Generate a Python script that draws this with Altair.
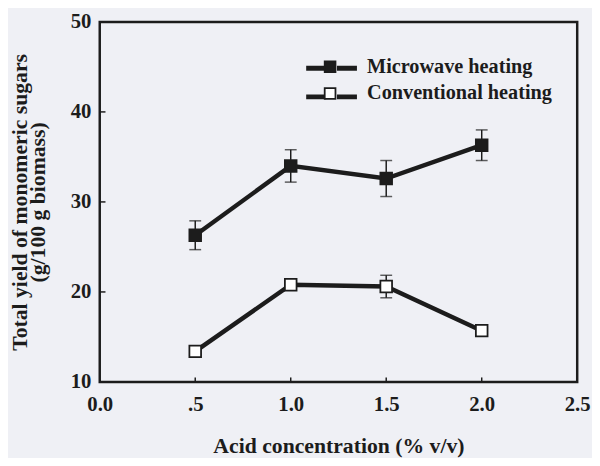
import altair as alt
import pandas as pd

# ---- data ----
acid = [0.5, 1.0, 1.5, 2.0]
microwave = [26.3, 34.0, 32.6, 36.3]
microwave_err = [1.6, 1.8, 2.0, 1.7]
conventional = [13.4, 20.8, 20.6, 15.7]
conventional_err = [0.4, 0.4, 1.25, 0.4]
series_names = ["Microwave heating", "Conventional heating"]
x_ticks = [0.0, 0.5, 1.0, 1.5, 2.0, 2.5]
y_ticks = [10, 20, 30, 40, 50]

rows = []
for name, vals, errs in [(series_names[0], microwave, microwave_err),
                         (series_names[1], conventional, conventional_err)]:
    for xv, yv, ev in zip(acid, vals, errs):
        rows.append({"acid": xv, "yield": yv, "lo": yv - ev, "hi": yv + ev,
                     "series": name, "series_key": name})
df = pd.DataFrame(rows)

xticks_in = pd.DataFrame({"t": [0.5, 1.0, 1.5, 2.0], "y0": 10, "y1": 10.5})
yticks_in = pd.DataFrame({"t": [20, 30, 40], "x0": 0.0, "x1": 0.03})

FONT = "Liberation Serif"
INK = "#1c1c1c"
BG = "#eff0f5"
LEG_X, LEG_Y = 222, 34

xscale = alt.Scale(domain=[0, 2.5], nice=False, zero=False)
yscale = alt.Scale(domain=[10, 50], nice=False, zero=False)

xaxis = alt.Axis(values=x_ticks, title="Acid concentration (% v/v)",
                 labelExpr="datum.value == 0.5 ? '.5' : format(datum.value, '.1f')",
                 ticks=False, domain=False, grid=False, labelPadding=12,
                 titlePadding=22, labelFlush=False)
yaxis = alt.Axis(values=y_ticks, title=["Total yield of monomeric sugars", "(g/100 g biomass)"],
                 ticks=False, domain=False, grid=False, labelPadding=9,
                 titlePadding=21, format="d", labelFlush=False, titleLineHeight=18)

base = alt.Chart(df)

err_rule = base.mark_rule(color=INK, strokeWidth=1.5).encode(
    x=alt.X("acid:Q", scale=xscale, axis=xaxis),
    y=alt.Y("lo:Q", scale=yscale, axis=yaxis),
    y2="hi:Q",
    detail="series:N",
)
cap_lo = base.mark_tick(color=INK, orient="horizontal", size=12, thickness=1.5).encode(
    x="acid:Q", y="lo:Q")
cap_hi = base.mark_tick(color=INK, orient="horizontal", size=12, thickness=1.5).encode(
    x="acid:Q", y="hi:Q")

common_legend = dict(title=None, orient="none", legendX=LEG_X, legendY=LEG_Y,
                     symbolSize=441, symbolOpacity=1, labelLimit=400,
                     labelFont=FONT, labelFontSize=20.5, labelFontWeight="bold",
                     labelColor=INK, labelOffset=26, rowPadding=5, padding=0)

lines = base.mark_line(strokeWidth=4.5).encode(
    x="acid:Q", y="yield:Q",
    stroke=alt.Stroke("series:N",
                      scale=alt.Scale(domain=series_names, range=[INK, INK]),
                      legend=alt.Legend(symbolType="M-2.45,0H-0.52M0.52,0H2.45",
                                        symbolStrokeWidth=5, symbolFillColor="transparent",
                                        labelExpr="''", **common_legend)),
)

points = base.mark_point(shape="square", size=140, stroke=INK, strokeWidth=1.8,
                         opacity=1, filled=False).encode(
    x="acid:Q", y="yield:Q",
    fill=alt.Fill("series_key:N",
                  scale=alt.Scale(domain=series_names, range=[INK, "white"]),
                  legend=alt.Legend(symbolType="M-0.52,-0.52H0.52V0.52H-0.52Z",
                                    symbolStrokeColor=INK, symbolStrokeWidth=1.8,
                                    **common_legend)),
)

tx = alt.Chart(xticks_in).mark_rule(color=INK, strokeWidth=1.5).encode(
    x="t:Q", y="y0:Q", y2="y1:Q")
ty = alt.Chart(yticks_in).mark_rule(color=INK, strokeWidth=1.5).encode(
    y="t:Q", x="x0:Q", x2="x1:Q")

chart = alt.layer(tx, ty, err_rule, cap_lo, cap_hi, lines, points).resolve_legend(
    stroke="independent", fill="independent"
).properties(
    width=484, height=365,
    autosize=alt.AutoSizeParams(type="none"),
    padding={"left": 93, "top": 11, "right": 15, "bottom": 74},
    background=BG,
).configure_view(
    stroke=INK, strokeWidth=2.5, fill=BG
).configure_axis(
    labelFont=FONT, labelFontSize=21, labelFontWeight="bold", labelColor=INK,
    titleFont=FONT, titleFontSize=22, titleFontWeight="bold", titleColor=INK,
)

chart.save("out.html", embed_options={"renderer": "svg", "actions": False})
